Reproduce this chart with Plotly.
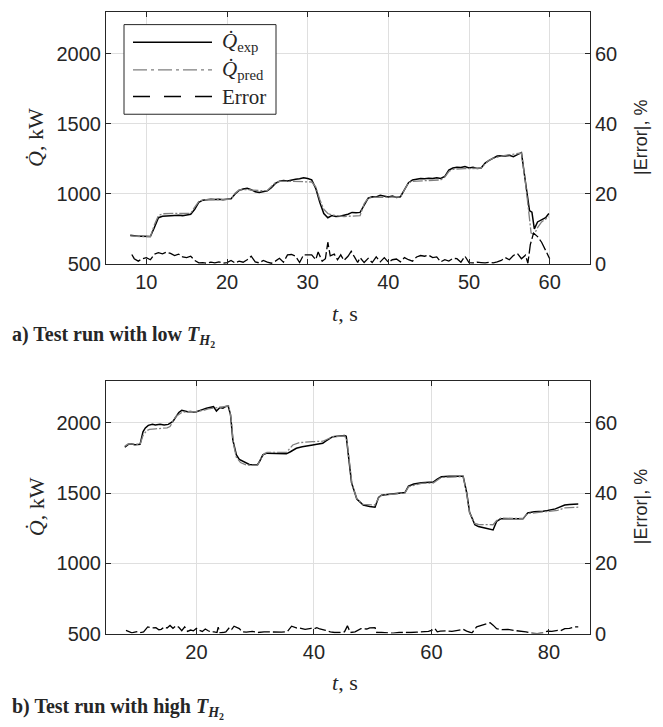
import plotly.graph_objects as go

# ---------------- Test run a) low T_H2 ----------------
t_a = [8.0, 8.5, 9.0, 9.5, 10.0, 10.5, 11.0, 11.5, 12.0, 12.5, 13.0, 13.5, 14.0, 14.5,
       15.0, 15.5, 16.0, 16.5, 17.0, 17.5, 18.0, 18.5, 19.0, 19.5, 20.0, 20.5, 21.0,
       21.5, 22.0, 22.5, 23.0, 23.5, 24.0, 24.5, 25.0, 25.5, 26.0, 26.5, 27.0, 27.5,
       28.0, 28.5, 29.0, 29.5, 30.0, 30.5, 31.0, 31.5, 32.0, 32.5, 33.0, 33.5, 34.0,
       34.5, 35.0, 35.5, 36.0, 36.5, 37.0, 37.5, 38.0, 38.5, 39.0, 39.5, 40.0, 40.5,
       41.0, 41.5, 42.0, 42.5, 43.0, 43.5, 44.0, 44.5, 45.0, 45.5, 46.0, 46.5, 47.0,
       47.5, 48.0, 48.5, 49.0, 49.5, 50.0, 50.5, 51.0, 51.5, 52.0, 52.5, 53.0, 53.5,
       54.0, 54.5, 55.0, 55.5, 56.0, 56.5, 57.0, 57.5, 57.8, 58.1, 58.5, 59.0, 59.5, 59.9]
q_exp_a = [705, 700, 698, 697, 697, 696, 760, 830, 840, 842, 845, 843, 848, 845,
           848, 855, 890, 940, 955, 960, 962, 960, 962, 958, 960, 965, 1000,
           1025, 1035, 1040, 1030, 1015, 1010, 1018, 1022, 1045, 1075, 1090, 1095, 1092,
           1100, 1105, 1108, 1115, 1110, 1100, 1040, 940, 860, 830, 845, 838, 840,
           845, 855, 868, 865, 868, 920, 970, 980, 978, 990, 982, 978, 985,
           975, 980, 1030, 1080, 1100, 1105, 1110, 1108, 1112, 1110, 1115, 1110, 1125,
           1170, 1185, 1190, 1188, 1195, 1185, 1190, 1182, 1185, 1220, 1240, 1255, 1270,
           1272, 1270, 1275, 1265, 1280, 1295, 1085, 880, 870, 750, 800, 815, 830, 860]
t_pred_a = [8.0, 8.5, 9.0, 9.5, 10.0, 10.5, 11.0, 11.5, 12.0, 12.5, 13.0, 13.5, 14.0, 14.5,
            15.0, 15.5, 16.0, 16.5, 17.0, 17.5, 18.0, 18.5, 19.0, 19.5, 20.0, 20.5, 21.0,
            21.5, 22.0, 22.5, 23.0, 23.5, 24.0, 24.5, 25.0, 25.5, 26.0, 26.5, 27.0, 27.5,
            28.0, 28.5, 29.0, 29.5, 30.0, 30.5, 31.0, 31.5, 32.0, 32.5, 33.0, 33.5, 34.0,
            34.5, 35.0, 35.5, 36.0, 36.5, 37.0, 37.5, 38.0, 38.5, 39.0, 39.5, 40.0, 40.5,
            41.0, 41.5, 42.0, 42.5, 43.0, 43.5, 44.0, 44.5, 45.0, 45.5, 46.0, 46.5, 47.0,
            47.5, 48.0, 48.5, 49.0, 49.5, 50.0, 50.5, 51.0, 51.5, 52.0, 52.5, 53.0, 53.5,
            54.0, 54.5, 55.0, 55.5, 56.0, 56.5, 57.0, 57.5, 57.7, 58.1, 58.5, 59.0, 59.5, 59.9]
q_pred_a = [700, 697, 696, 695, 695, 695, 780, 845, 858, 860, 862, 862, 862, 860,
            862, 862, 905, 945, 958, 960, 960, 960, 960, 960, 960, 962, 1005,
            1028, 1030, 1032, 1028, 1025, 1022, 1022, 1025, 1050, 1080, 1090, 1092, 1090,
            1090, 1090, 1090, 1090, 1088, 1085, 1050, 960, 890, 860, 850, 845, 840,
            838, 840, 840, 840, 845, 930, 970, 975, 975, 977, 977, 977, 977,
            975, 978, 1030, 1080, 1090, 1092, 1095, 1095, 1097, 1098, 1100, 1100, 1120,
            1160, 1175, 1178, 1180, 1180, 1180, 1180, 1182, 1185, 1215, 1240, 1255, 1265,
            1270, 1275, 1278, 1282, 1286, 1292, 1080, 800, 720, 712, 760, 800, 820, 836]
t_err_a = [8.2, 8.5, 9.0, 9.5, 10.0, 10.5, 11.0, 11.5, 12.0, 12.5, 13.0, 13.5, 14.0, 14.5,
           15.0, 15.5, 16.0, 16.5, 17.0, 17.5, 18.0, 18.5, 19.0, 19.5, 20.0, 20.5, 21.0,
           21.5, 22.0, 22.5, 23.0, 23.5, 24.0, 24.5, 25.0, 25.5, 26.0, 26.5, 27.0, 27.5,
           28.0, 28.5, 29.0, 29.5, 30.0, 30.5, 31.0, 31.3, 31.8, 32.2, 32.5, 32.8, 33.3,
           33.7, 34.1, 34.5, 35.0, 35.4, 35.8, 36.2, 36.5, 37.0, 37.5, 38.0, 38.5, 39.0,
           39.5, 40.0, 40.5, 41.0, 41.5, 42.0, 42.5, 43.0, 43.5, 44.0, 44.5, 45.0, 45.5,
           46.0, 46.5, 47.0, 47.5, 48.0, 48.5, 49.0, 49.5, 50.0, 50.5, 51.0, 51.5, 52.0,
           52.5, 53.0, 53.5, 54.0, 54.5, 55.0, 55.5, 56.0, 56.5, 57.0, 57.3, 57.6, 58.0,
           58.5, 59.0, 59.5, 60.0]
err_a = [2.7, 1.5, 0.8, 1.5, 1.8, 1.2, 2.8, 3.2, 2.9, 3.4, 3.0, 2.4, 2.8, 2.0,
         1.8, 2.2, 1.0, 0.3, 0.4, 0.2, 0.5, 0.3, 0.6, 0.2, 0.4, 1.0, 0.3,
         0.8, 0.5, 1.2, 2.2, 0.6, 0.3, 1.0, 0.5, 0.2, 0.8, 1.6, 0.5, 2.6,
         2.7, 2.2, 0.4, 2.6, 2.6, 2.6, 1.2, 3.4, 0.8, 1.5, 6.2, 2.3, 2.8,
         1.2, 2.6, 1.0, 2.2, 3.6, 2.0, 0.4, 1.8, 0.4, 1.6, 0.4, 2.0, 0.6,
         1.8, 0.5, 1.2, 1.4, 0.6, 1.8, 1.2, 0.8, 2.0, 2.4, 2.2, 2.5, 1.8,
         2.0, 0.6, 1.2, 0.8, 1.6, 1.5, 0.5, 2.2, 0.4, 0.3, 0.5, 0.4, 0.3,
         0.5, 0.3, 0.6, 1.0, 1.8, 1.2, 2.4, 3.0, 1.5, 2.5, 0.2, 5.5, 8.8,
         7.8, 6.2, 4.0, 1.5]

# ---------------- Test run b) high T_H2 ----------------
t_exp_b = [7.8, 8.4, 9.0, 9.5, 10.0, 10.4, 10.9, 11.3, 11.8, 12.5, 13.0, 13.8, 14.5, 15.2,
           16.0, 16.5, 17.0, 17.5, 18.0, 18.5, 19.0, 19.5, 20.0, 20.5, 21.0, 21.7, 22.3,
           22.9, 23.4, 24.0, 24.5, 25.0, 25.4, 25.8, 26.2, 26.8, 27.3, 27.9, 28.5, 29.0,
           29.6, 30.4, 30.8, 31.3, 32.0, 33.0, 34.0, 35.3, 36.0, 37.0, 38.0, 39.0, 39.8,
           40.5, 41.5, 42.0, 43.2, 44.0, 45.2, 45.5, 45.9, 46.4, 47.3, 48.4, 49.5, 50.4,
           51.0, 51.5, 52.5, 53.5, 55.5, 56.1, 57.0, 58.3, 59.5, 60.3, 61.0, 61.7, 63.0,
           64.5, 65.4, 66.0, 66.5, 67.4, 68.0, 69.1, 70.5, 71.1, 71.8, 73.0, 74.5, 75.6,
           76.4, 77.5, 79.0, 79.8, 81.1, 82.7, 83.5, 84.7, 85.0]
q_exp_b = [1827, 1848, 1850, 1845, 1846, 1848, 1937, 1965, 1983, 1990, 1985, 1990, 1985, 1990,
           2011, 2040, 2075, 2090, 2085, 2080, 2082, 2078, 2080, 2090, 2095, 2105, 2110,
           2116, 2085, 2110, 2105, 2118, 2120, 2060, 1878, 1773, 1740, 1727, 1712, 1705,
           1703, 1703, 1730, 1773, 1785, 1782, 1780, 1780, 1795, 1820, 1830, 1835, 1843,
           1848, 1855, 1870, 1902, 1905, 1910, 1905, 1762, 1575, 1458, 1416, 1405, 1400,
           1469, 1485, 1490, 1495, 1504, 1550, 1565, 1575, 1578, 1579, 1600, 1617, 1620,
           1622, 1621, 1505, 1364, 1275, 1262, 1252, 1238, 1299, 1317, 1318, 1320, 1317,
           1360, 1368, 1372, 1376, 1388, 1416, 1420, 1423, 1423]
t_pred_b = [7.8, 8.4, 10.4, 10.9, 11.5, 12.0, 13.0, 14.0, 15.0, 15.5, 16.5, 17.5, 18.5, 20.0,
            21.0, 22.0, 23.0, 24.0, 25.0, 25.5, 25.9, 26.3, 26.8, 27.5, 28.5, 29.5, 30.4,
            30.9, 31.5, 32.0, 34.0, 35.3, 36.4, 37.5, 39.8, 41.5, 43.2, 45.2, 45.6, 46.0,
            46.5, 47.3, 48.4, 50.4, 51.0, 51.5, 55.5, 56.1, 58.3, 60.3, 61.7, 65.4, 66.0,
            66.5, 67.4, 68.0, 70.5, 71.1, 71.8, 75.6, 76.4, 79.8, 81.5, 82.7, 85.0]
q_pred_b = [1835, 1850, 1848, 1910, 1945, 1955, 1958, 1960, 1965, 1975, 2047, 2075, 2080, 2082,
            2088, 2100, 2108, 2112, 2118, 2120, 2030, 1850, 1755, 1718, 1700, 1698, 1700,
            1740, 1780, 1790, 1790, 1790, 1843, 1860, 1867, 1870, 1902, 1908, 1880, 1740,
            1560, 1460, 1420, 1416, 1465, 1485, 1502, 1545, 1570, 1572, 1612, 1618, 1500,
            1360, 1285, 1277, 1275, 1305, 1322, 1320, 1355, 1370, 1378, 1395, 1400]
t_err_b = [8.0, 8.5, 9.0, 9.5, 10.0, 10.5, 11.0, 11.7, 12.3, 13.1, 13.6, 14.0, 14.5, 15.0,
           15.5, 16.0, 16.5, 17.0, 17.5, 18.0, 18.5, 19.0, 19.5, 20.0, 20.5, 21.0, 21.5,
           22.0, 22.5, 23.0, 23.5, 23.7, 24.0, 24.5, 25.0, 25.6, 26.0, 26.4, 27.0, 27.3,
           27.8, 28.5, 29.5, 30.5, 31.5, 32.5, 33.5, 34.5, 35.5, 36.2, 37.0, 37.8, 38.5,
           39.0, 39.5, 40.0, 40.5, 41.0, 41.5, 42.0, 42.8, 43.5, 44.5, 45.2, 45.7, 46.2,
           47.0, 48.0, 49.0, 49.5, 50.4, 50.7, 51.5, 52.5, 53.5, 54.5, 55.5, 56.5, 57.5,
           58.5, 59.5, 60.0, 60.6, 61.0, 61.5, 62.5, 63.5, 64.5, 65.4, 66.0, 66.9, 67.7,
           68.5, 69.1, 70.0, 70.5, 71.1, 72.0, 73.0, 74.0, 75.0, 76.1, 77.0, 78.0, 79.0,
           79.8, 80.5, 81.5, 82.0, 82.7, 83.5, 84.4, 85.0]
err_b = [0.9, 0.5, 0.2, 0.4, 0.6, 0.3, 0.5, 1.9, 1.6, 1.7, 1.1, 1.2, 1.9, 1.6,
         2.3, 1.5, 2.2, 1.8, 0.8, 1.9, 0.6, 1.0, 0.8, 1.5, 0.9, 0.6, 1.3,
         0.8, 0.4, 0.5, 0.3, 1.8, 0.2, 0.3, 0.5, 1.7, 1.2, 2.1, 1.6, 1.4,
         0.5, 0.4, 0.6, 0.3, 0.5, 0.4, 0.5, 0.4, 0.6, 2.1, 1.6, 1.5, 1.2,
         1.4, 1.5, 1.3, 1.7, 1.3, 1.2, 0.9, 0.5, 0.3, 0.3, 0.5, 2.2, 0.3,
         0.5, 1.4, 1.3, 1.6, 1.7, 0.3, 0.3, 0.2, 0.1, 0.3, 0.2, 0.3, 0.4,
         0.5, 0.6, 0.9, 1.4, 0.5, 0.7, 0.8, 0.6, 0.9, 1.2, 0.7, 0.2, 1.9,
         2.3, 2.6, 3.1, 2.4, 1.4, 1.1, 1.2, 0.9, 0.8, 0.5, 0.1, 0.0, 0.2,
         0.7, 0.6, 0.9, 0.8, 1.4, 1.5, 1.9, 1.9]

# ---------------- axes settings ----------------
q_ticks = [500, 1000, 1500, 2000]
err_ticks = [0, 20, 40, 60]
t_ticks_a = [10, 20, 30, 40, 50, 60]
t_ticks_b = [20, 40, 60, 80]
q_range = [500, 2300]
err_range = [0, 72]
t_range_a = [5, 65]
t_range_b = [4.6, 87]

W, H = 663, 727
AX = "#262626"
GRID = "#dfdfdf"
SANS = "Liberation Sans, Arial, sans-serif"
SERIF = "Liberation Serif, Times New Roman, serif"

EXP = dict(color="black", width=1.5)
PRED = dict(color="#7f7f7f", width=1.3, dash="10px,2px,2px,2px")
ERR = dict(color="black", width=1.3, dash="12px,3px")


def px_x(p):
    return p / W


def px_y(p):
    return 1 - p / H


fig = go.Figure()

fig.add_trace(go.Scatter(x=t_a, y=q_exp_a, mode="lines", line=EXP, xaxis="x", yaxis="y", showlegend=False))
fig.add_trace(go.Scatter(x=t_pred_a, y=q_pred_a, mode="lines", line=PRED, xaxis="x", yaxis="y", showlegend=False))
fig.add_trace(go.Scatter(x=t_err_a, y=err_a, mode="lines", line=ERR, xaxis="x", yaxis="y2", showlegend=False))

fig.add_trace(go.Scatter(x=t_exp_b, y=q_exp_b, mode="lines", line=EXP, xaxis="x2", yaxis="y3", showlegend=False))
fig.add_trace(go.Scatter(x=t_pred_b, y=q_pred_b, mode="lines", line=PRED, xaxis="x2", yaxis="y3", showlegend=False))
fig.add_trace(go.Scatter(x=t_err_b, y=err_b, mode="lines", line=ERR, xaxis="x2", yaxis="y4", showlegend=False))

xdom = [px_x(106), px_x(590)]
dom_a = [px_y(268), px_y(12)]
dom_b = [px_y(643.3), px_y(386.7)]

tickfont = dict(family=SANS, size=20, color=AX)
common = dict(showline=True, linecolor=AX, linewidth=1, ticks="inside", ticklen=5,
              tickcolor=AX, tickfont=tickfont, zeroline=False)

fig.update_layout(
    width=W, height=H,
    margin=dict(l=0, r=0, t=0, b=0),
    paper_bgcolor="white", plot_bgcolor="white",
    showlegend=False,
    xaxis=dict(domain=xdom, anchor="y", range=t_range_a, tickvals=t_ticks_a,
               showgrid=True, gridcolor=GRID, mirror="ticks", **common),
    yaxis=dict(domain=dom_a, anchor="x", range=q_range, tickvals=q_ticks,
               showgrid=True, gridcolor=GRID, **common),
    yaxis2=dict(domain=dom_a, anchor="x", overlaying="y", side="right", range=err_range,
                tickvals=err_ticks, showgrid=False, **common),
    xaxis2=dict(domain=xdom, anchor="y3", range=t_range_b, tickvals=t_ticks_b,
                showgrid=True, gridcolor=GRID, mirror="ticks", **common),
    yaxis3=dict(domain=dom_b, anchor="x2", range=q_range, tickvals=q_ticks,
                showgrid=True, gridcolor=GRID, **common),
    yaxis4=dict(domain=dom_b, anchor="x2", overlaying="y3", side="right", range=err_range,
                tickvals=err_ticks, showgrid=False, **common),
)

ann = []
shapes = []


def text(x, y, s, size=18, family=SERIF, angle=0, xanchor="center", yanchor="middle"):
    ann.append(dict(x=px_x(x), y=px_y(y), xref="paper", yref="paper", text=s,
                    showarrow=False, textangle=angle, xanchor=xanchor, yanchor=yanchor,
                    font=dict(family=family, size=size, color=AX)))


for top, bot, xt in [(12, 268, 318), (386.7, 643.3, 693)]:
    mid = (top + bot) / 2
    text(36, mid, "<i>Q̇</i>, kW", size=22, angle=-90)
    text(641, mid, "|Error|, %", size=18, family=SANS, angle=-90)
    text(345, xt, "<i>t</i>, s", size=22)

text(10, 342, "<b>a) Test run with low <i>T</i><sub><i>H</i><sub>2</sub></sub></b>",
     size=20, xanchor="left")
text(10, 719, "<b>b) Test run with high <i>T</i><sub><i>H</i><sub>2</sub></sub></b>",
     size=20, xanchor="left")

# legend box
shapes.append(dict(type="rect", xref="paper", yref="paper", x0=px_x(124), x1=px_x(276),
                   y0=px_y(116), y1=px_y(25), line=dict(color=AX, width=1), fillcolor="white"))
legend_rows = [(43, EXP, "<i>Q̇</i><sub>exp</sub>"),
               (71, dict(color="#7f7f7f", width=1.3, dash="14px,4px,3px,4px"), "<i>Q̇</i><sub>pred</sub>"),
               (98, dict(color="black", width=1.3, dash="17px,14px"), "Error")]
for yy, ln, label in legend_rows:
    shapes.append(dict(type="line", xref="paper", yref="paper", x0=px_x(133), x1=px_x(212),
                       y0=px_y(yy), y1=px_y(yy), line=ln))
    text(220, yy, label, size=21, xanchor="left")

fig.update_layout(annotations=ann, shapes=shapes)
fig.write_html("out.html")
